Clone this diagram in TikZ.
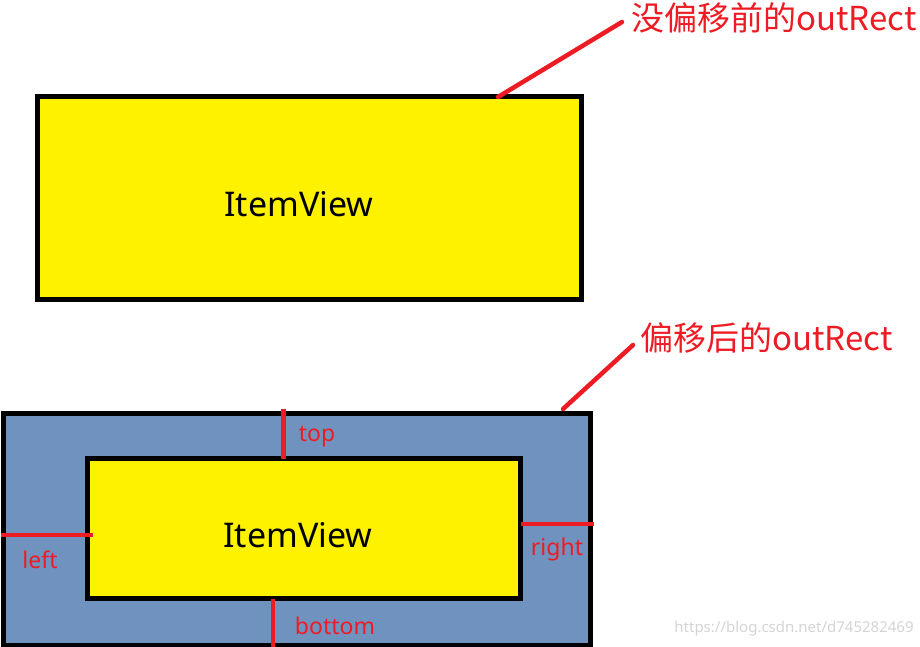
\documentclass[tikz,border=0pt]{standalone}
\usepackage{fontspec}
\setmainfont{Noto Sans}
\newfontfamily\cjk{Noto Sans CJK SC}
\usepackage{tikz}
\usetikzlibrary{positioning,calc}
\definecolor{paintyellow}{HTML}{FFF200}
\definecolor{paintblue}{HTML}{7092BE}
\definecolor{paintred}{HTML}{ED1C24}
\definecolor{wmark}{HTML}{D4D4D4}

\begin{document}
\begin{tikzpicture}[x=1pt,y=-1pt,
  rectbox/.style={draw=black,line width=5pt,inner sep=0pt,outer sep=0pt},
  viewlbl/.style={font=\fontsize{34}{40}\selectfont,inner sep=0pt},
  marker/.style={draw=paintred,line width=4.5pt},
  lead/.style={draw=paintred,line width=4.5pt,line cap=round},
  sidelbl/.style={text=paintred,font=\fontsize{23}{27}\selectfont,inner sep=0pt},
  notelbl/.style={text=paintred,font=\fontsize{33}{38}\selectfont,inner sep=0pt}
]
\useasboundingbox (0,0) rectangle (920,647);
% before the offset
\node[rectbox,fill=paintyellow,minimum width=544pt,minimum height=203pt] (orig) at (309.5,198) {};
\node[viewlbl] (origlbl) at (299,204) {ItemView};
\node[notelbl,anchor=west] (note1) at (631,18) {\cjk 没偏移前的outRect};
\coordinate (p1) at (498,97);
\coordinate (q1) at (622,22);
\draw[lead] (p1) -- (q1);
% after the offset
\node[rectbox,fill=paintblue,minimum width=587pt,minimum height=232pt] (outer) at (297,529.5) {};
\node[rectbox,fill=paintyellow,minimum width=433pt,minimum height=140pt] (inner) at (304,528.5) {};
\node[viewlbl] (innerlbl) at (298,535) {ItemView};
\node[notelbl,anchor=west] (note2) at (640,338) {\cjk 偏移后的outRect};
\coordinate (p2) at (563,409);
\coordinate (q2) at (633,345);
\draw[lead] (p2) -- (q2);
% offsets
\coordinate (topend) at (283.5,409);
\coordinate (leftend) at (1,535);
\coordinate (rightend) at (594,524);
\coordinate (botend) at (273,647);
\draw[marker] (topend) -- (topend |- inner.north);
\draw[marker] (leftend) -- ($(leftend -| inner.west)+(5,0)$);
\draw[marker] (rightend) -- (rightend -| inner.east);
\draw[marker] (botend) -- (botend |- inner.south);
\node[sidelbl] (toplbl) at (317,437) {top};
\node[sidelbl] (leftlbl) at (40,560) {left};
\node[sidelbl] (rightlbl) at (557,550) {right};
\node[sidelbl] (botlbl) at (335,626) {bottom};
\node[text=wmark,font=\fontsize{15}{18}\selectfont,inner sep=0pt] (wm) at (794,629) {https://blog.csdn.net/d745282469};
\end{tikzpicture}
\end{document}
